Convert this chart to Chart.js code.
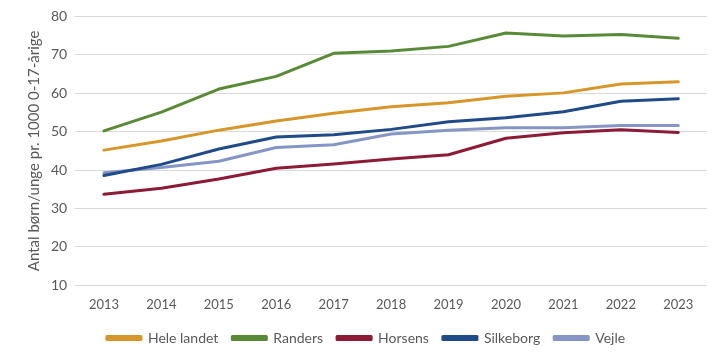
<!DOCTYPE html>
<html><head><meta charset="utf-8">
<script src="https://cdn.jsdelivr.net/npm/chart.js@4/dist/chart.umd.min.js"></script>
<style>html,body{margin:0;padding:0;background:#fff}canvas{display:block}</style>
</head><body>
<canvas id="c" width="724" height="364"></canvas>
<script>
const years = ["2013","2014","2015","2016","2017","2018","2019","2020","2021","2022","2023"];
const heleLandet = [45.2,47.6,50.4,52.8,54.8,56.5,57.5,59.2,60.1,62.4,63.0];
const randers    = [50.2,55.1,61.1,64.4,70.4,71.0,72.2,75.7,74.9,75.3,74.3];
const horsens    = [33.7,35.3,37.7,40.5,41.6,42.9,44.0,48.3,49.7,50.5,49.8];
const silkeborg  = [38.6,41.5,45.5,48.6,49.2,50.6,52.6,53.6,55.2,57.9,58.6];
const vejle      = [39.3,40.7,42.3,45.9,46.6,49.4,50.4,51.0,51.0,51.6,51.6];
const yTitle = "Antal børn/unge pr. 1000 0-17-årige";

const FONT = "Lato, 'Liberation Sans', sans-serif";
function ds(label, data, color){
  return {label, data, borderColor: color, backgroundColor: color, borderWidth: 3,
    pointRadius: 0, tension: 0, fill: false, borderCapStyle: 'round', borderJoinStyle: 'round'};
}
new Chart(document.getElementById('c'), {
  type: 'line',
  data: {
    labels: years,
    datasets: [
      ds("Hele landet", heleLandet, "#D6962A"),
      ds("Randers", randers, "#588A37"),
      ds("Horsens", horsens, "#8C1B37"),
      ds("Silkeborg", silkeborg, "#1F4B89"),
      ds("Vejle", vejle, "#8596C4")
    ]
  },
  options: {
    responsive: false, animation: false,
    layout: {padding: {left: 25, right: 17, top: 10, bottom: 9}},
    plugins: {
      legend: {position: 'bottom', labels: {boxWidth: 34, boxHeight: 3, color: '#595959',
        font: {family: FONT, size: 14}, padding: 14}},
      tooltip: {enabled: false}
    },
    scales: {
      x: {offset: true, grid: {display: false}, border: {display: false},
        ticks: {color: '#595959', font: {family: FONT, size: 13}, padding: 4}},
      y: {min: 10, max: 80, border: {display: false},
        grid: {color: '#d9d9d9', lineWidth: 1, drawTicks: false},
        ticks: {stepSize: 10, color: '#595959', font: {family: FONT, size: 14}, padding: 8},
        title: {display: true, text: yTitle, color: '#595959', font: {family: FONT, size: 15}, padding: 0}}
    }
  }
});
</script>
</body></html>
